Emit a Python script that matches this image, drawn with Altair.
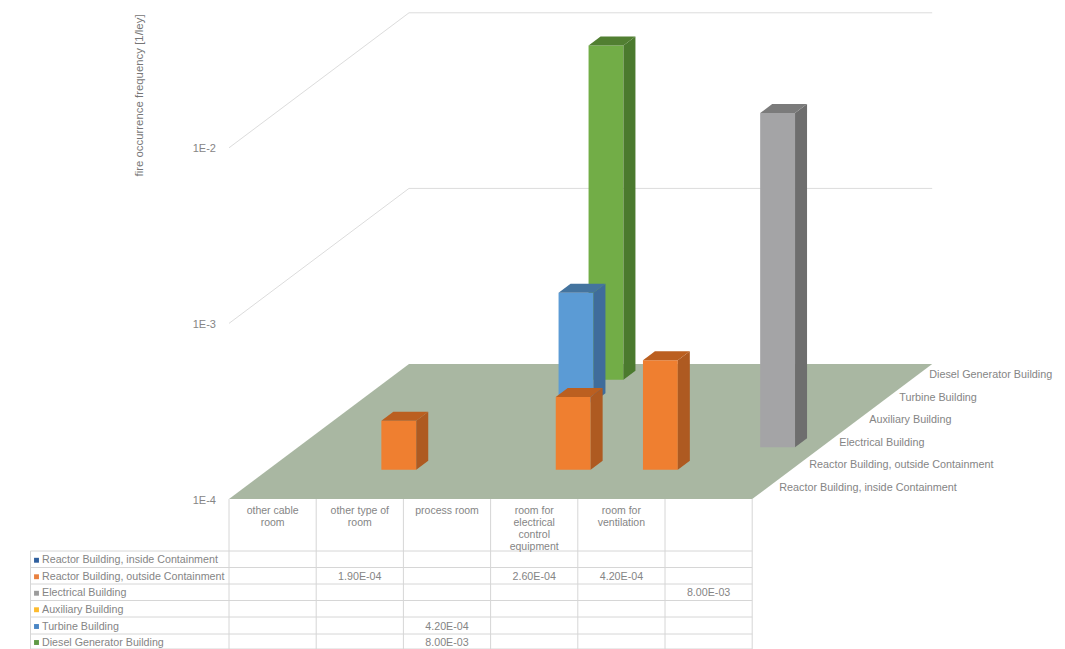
import math
import altair as alt
import pandas as pd

W, H = 1065, 649

# Categories and values of the fire-frequency table
rooms = ["other cable\nroom", "other type of\nroom", "process room",
         "room for\nelectrical\ncontrol\nequipment", "room for\nventilation", ""]
buildings = ["Reactor Building, inside Containment", "Reactor Building, outside Containment",
             "Electrical Building", "Auxiliary Building", "Turbine Building",
             "Diesel Generator Building"]
# (building index, room index, frequency per year)
bar_building = [5, 4, 2, 1, 1, 1]
bar_room = [2, 2, 5, 1, 3, 4]
bar_value = [8.0e-3, 4.2e-4, 8.0e-3, 1.9e-4, 2.6e-4, 4.2e-4]

axis_ticks = [-4, -3, -2]

swatch = ["#2f5f9e", "#e9803f", "#9c9c9c", "#fdbb2e", "#4a86c5", "#5f9a45"]
front = {0: "#4472c4", 1: "#ef7f30", 2: "#a4a4a6", 3: "#ffc000", 4: "#5b9bd5", 5: "#72ad47"}
side = {0: "#2f5597", 1: "#ae5a21", 2: "#6e6e6e", 3: "#bf9000", 4: "#3f6c9b", 5: "#4b7a2e"}
top = {0: "#2f5597", 1: "#bb5f20", 2: "#7b7b7b", 3: "#bf9000", 4: "#44749f", 5: "#517f31"}
text_grey = "#858585"
rule_grey = "#d6d6d6"

# Oblique projection of (room, building depth, decades above 1E-4) on to the canvas
ORIGIN_X, ORIGIN_Y = 229.0, 499.0
ROOM_DX, DEPTH_DX, DEPTH_DY, DECADE = 87.2, 30.0, 22.5, 175.6


def proj(u, v, decades=0.0):
    return ORIGIN_X + ROOM_DX * u + DEPTH_DX * v, ORIGIN_Y - DEPTH_DY * v - DECADE * decades


xs = alt.Scale(domain=[0, W], range=[0, W], nice=False, zero=False)
ys = alt.Scale(domain=[H, 0], nice=False, zero=False)
X = alt.X("x:Q", scale=xs, axis=None)
Y = alt.Y("y:Q", scale=ys, axis=None)


def band(points, color):
    """A four-sided face whose left and right edges are vertical."""
    (x0, y0, y0b), (x1, y1, y1b) = points
    df = pd.DataFrame({"x": [x0, x1], "y": [y0, y1], "yb": [y0b, y1b]})
    return alt.Chart(df).mark_area(color=color, interpolate="linear").encode(X, Y, y2="yb:Q")


def slab(points, color):
    """A four-sided face whose top and bottom edges are horizontal."""
    (y0, x0, x0b), (y1, x1, x1b) = points
    df = pd.DataFrame({"y": [y0, y1], "x": [x0, x1], "xb": [x0b, x1b]})
    return alt.Chart(df).mark_area(color=color, orient="horizontal", interpolate="linear").encode(X, Y, x2="xb:Q")


layers = []

# Floor of the 3D box
fl, fr = proj(0, 0), proj(6, 0)
bl, br = proj(0, 6), proj(6, 6)
layers.append(slab([(fl[1], fl[0], fr[0]), (bl[1], bl[0], br[0])], "#a9b7a2"))

# Gridlines on the side and back walls
grid = []
for i, dec in enumerate([1.0, 2.0]):
    a, b, c = proj(0, 0, dec), proj(0, 6, dec), proj(6, 6, dec)
    grid += [{"g": i, "o": 0, "x": a[0], "y": a[1]},
             {"g": i, "o": 1, "x": b[0], "y": b[1]},
             {"g": i, "o": 2, "x": c[0], "y": c[1]}]
layers.append(alt.Chart(pd.DataFrame(grid)).mark_line(color="#dcdcdc", strokeWidth=1).encode(
    X, Y, detail="g:N", order="o:Q"))

# Bars, painted from the back row forward
for b_idx, r_idx, val in sorted(zip(bar_building, bar_room, bar_value), key=lambda t: -t[0]):
    dec = math.log10(val) + 4
    u0, u1 = r_idx + 0.3, r_idx + 0.7
    v0, v1 = b_idx + 0.3, b_idx + 0.7
    f_tl, f_tr = proj(u0, v0, dec), proj(u1, v0, dec)
    f_bl, f_br = proj(u0, v0), proj(u1, v0)
    b_tl, b_tr = proj(u0, v1, dec), proj(u1, v1, dec)
    b_br = proj(u1, v1)
    layers.append(band([(f_tl[0], f_tl[1], f_bl[1]), (f_tr[0], f_tr[1], f_br[1])], front[b_idx]))
    layers.append(band([(f_tr[0], f_tr[1], f_br[1]), (b_tr[0], b_tr[1], b_br[1])], side[b_idx]))
    layers.append(slab([(f_tl[1], f_tl[0], f_tr[0]), (b_tl[1], b_tl[0], b_tr[0])], top[b_idx]))

# Value-axis labels and title
tick_df = pd.DataFrame({
    "x": [216.0] * len(axis_ticks),
    "y": [proj(0, 0, t + 4)[1] + 1.5 for t in axis_ticks],
    "t": [f"1E{t}" for t in axis_ticks],
})
layers.append(alt.Chart(tick_df).mark_text(align="right", baseline="middle", font="Liberation Sans",
                                           fontSize=11, color=text_grey).encode(X, Y, text="t:N"))
layers.append(alt.Chart(pd.DataFrame({"x": [140.0], "y": [95.5], "t": ["fire occurrence frequency [1/ley]"]}))
              .mark_text(angle=270, align="center", baseline="middle", font="Liberation Sans",
                         fontSize=11.4, color="#757575").encode(X, Y, text="t:N"))

# Depth-axis labels along the right edge of the floor
depth_df = pd.DataFrame([
    {"x": proj(6, i + 0.5)[0] + 12, "y": proj(6, i + 0.5)[1], "t": name}
    for i, name in enumerate(buildings)
])
layers.append(alt.Chart(depth_df).mark_text(align="left", baseline="middle", font="Liberation Sans",
                                            fontSize=10.8, color=text_grey).encode(X, Y, text="t:N"))

# Data table under the chart
col_edges = [ORIGIN_X + ROOM_DX * i for i in range(7)]
row_edges = [551.0, 567.5, 584.0, 600.5, 617.0, 634.0, 649.0]
table_left = 30.5
rules = []
for xe in col_edges:
    rules.append({"x": xe, "xb": xe, "y": ORIGIN_Y, "yb": row_edges[-1]})
rules.append({"x": table_left, "xb": table_left, "y": row_edges[0], "yb": row_edges[-1]})
for ye in row_edges:
    rules.append({"x": table_left, "xb": col_edges[-1], "y": ye, "yb": ye})
layers.append(alt.Chart(pd.DataFrame(rules)).mark_rule(color=rule_grey, strokeWidth=1).encode(
    X, Y, x2="xb:Q", y2="yb:Q"))

header_df = pd.DataFrame({
    "x": [(col_edges[i] + col_edges[i + 1]) / 2 for i in range(6)],
    "y": [505.5] * 6,
    "t": rooms,
})
layers.append(alt.Chart(header_df).mark_text(align="center", baseline="top", lineBreak="\n", lineHeight=12,
                                             font="Liberation Sans", fontSize=10.5, color=text_grey).encode(
    X, Y, text="t:N"))

row_mid = [(row_edges[i] + row_edges[i + 1]) / 2 + 1 for i in range(6)]
name_df = pd.DataFrame({"x": [42.0] * 6, "y": row_mid, "t": buildings})
layers.append(alt.Chart(name_df).mark_text(align="left", baseline="middle", font="Liberation Sans",
                                           fontSize=10.7, color=text_grey).encode(X, Y, text="t:N"))
swatch_df = pd.DataFrame({"x": [36.5] * 6, "y": row_mid, "c": swatch})
layers.append(alt.Chart(swatch_df).mark_square(size=24, opacity=1).encode(
    X, Y, color=alt.Color("c:N", scale=None)))

cell_df = pd.DataFrame({
    "x": [(col_edges[r] + col_edges[r + 1]) / 2 for r in bar_room],
    "y": [row_mid[b] for b in bar_building],
    "t": [f"{v:.2E}" for v in bar_value],
})
layers.append(alt.Chart(cell_df).mark_text(align="center", baseline="middle", font="Liberation Sans",
                                           fontSize=10.7, color=text_grey).encode(X, Y, text="t:N"))

chart = alt.layer(*layers).properties(
    width=W, height=H, padding=0, autosize=alt.AutoSizeParams(type="none"),
    background="white",
).configure_view(stroke=None)

chart.save("out.html", embed_options={"renderer": "svg", "actions": False})
